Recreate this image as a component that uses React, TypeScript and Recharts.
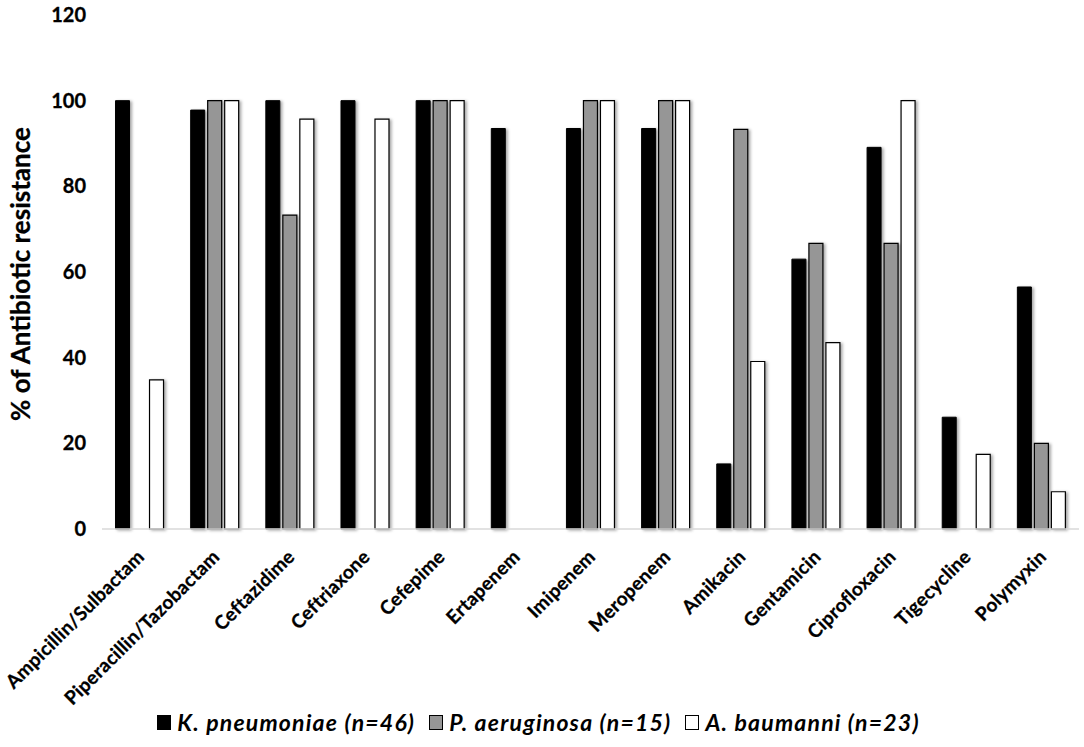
import React from 'react';
import { BarChart, Bar, XAxis, YAxis, Legend, Label, Rectangle } from 'recharts';

const categories = [
  'Ampicillin/Sulbactam', 'Piperacillin/Tazobactam', 'Ceftazidime', 'Ceftriaxone', 'Cefepime',
  'Ertapenem', 'Imipenem', 'Meropenem', 'Amikacin', 'Gentamicin', 'Ciprofloxacin', 'Tigecycline', 'Polymyxin',
];
const kPneumoniae = [100, 97.8, 100, 100, 100, 93.5, 93.5, 93.5, 15.2, 63.0, 89.1, 26.1, 56.5];
const pAeruginosa = [0, 100, 73.3, 0, 100, 0, 100, 100, 93.3, 66.7, 66.7, 0, 20];
const aBaumanni = [34.8, 100, 95.7, 95.7, 100, 0, 100, 100, 39.1, 43.5, 100, 17.4, 8.7];
const yTicks = [0, 20, 40, 60, 80, 100, 120];
const seriesNames = ['K. pneumoniae (n=46)', 'P. aeruginosa (n=15)', 'A. baumanni (n=23)'];

const data = categories.map((name, i) => ({
  name,
  k: kPneumoniae[i],
  p: pAeruginosa[i],
  a: aBaumanni[i],
}));

const FONT = 'Lato, "Open Sans", sans-serif';

const XTick = (props: any) => {
  const { x, y, payload } = props;
  const tx = x + 6;
  const ty = y + 21;
  return (
    <text
      x={tx}
      y={ty}
      textAnchor="end"
      fontFamily={FONT}
      fontWeight="bold"
      fontSize={19}
      letterSpacing={0.3}
      fill="#000"
      stroke="#000"
      strokeWidth={0.3}
      transform={`rotate(-45, ${tx}, ${ty})`}
    >
      {payload.value}
    </text>
  );
};

const YTick = (props: any) => {
  const { x, y, payload } = props;
  return (
    <text
      x={x}
      y={y}
      dy={7}
      textAnchor="end"
      fontFamily={FONT}
      fontWeight="bold"
      fontSize={20}
      fill="#000"
      stroke="#000"
      strokeWidth={0.3}
    >
      {payload.value}
    </text>
  );
};

const shadowShape = (props: any) => {
  if (!props.height) return <g />;
  return (
    <Rectangle
      {...props}
      style={{ filter: 'drop-shadow(2px 1px 1.5px rgba(0,0,0,0.35))' }}
    />
  );
};

const LegendContent = () => {
  const fills = ['#000000', '#969696', '#ffffff'];
  return (
    <div
      style={{
        display: 'flex',
        justifyContent: 'center',
        alignItems: 'center',
        height: 30,
        fontFamily: FONT,
        fontWeight: 'bold',
        fontStyle: 'italic',
        fontSize: 23,
        letterSpacing: 1.2,
        color: '#000',
        paddingLeft: 12,
      }}
    >
      {seriesNames.map((n, i) => (
        <span key={n} style={{ display: 'flex', alignItems: 'center', marginRight: 14 }}>
          <span
            style={{
              display: 'inline-block',
              width: 12,
              height: 13,
              background: fills[i],
              border: '1px solid #000',
              marginRight: 6,
            }}
          />
          {n}
        </span>
      ))}
    </div>
  );
};

export default function App() {
  return (
    <div style={{ position: 'absolute', left: 0, top: 0, width: 1084, height: 747, background: '#fff' }}>
      <BarChart
        width={1084}
        height={747}
        data={data}
        margin={{ top: 15, right: 5, left: 0, bottom: 10 }}
        barCategoryGap="18%"
        barGap={3}
      >
        <XAxis
          dataKey="name"
          interval={0}
          tickLine={false}
          axisLine={{ stroke: '#d9d9d9', strokeWidth: 1.5 }}
          tick={<XTick />}
          height={178}
        />
        <YAxis
          domain={[0, 120]}
          ticks={yTicks}
          interval={0}
          axisLine={false}
          tickLine={false}
          width={102}
          tickMargin={10}
          tick={<YTick />}
        >
          <Label
            content={() => (
              <text
                x={30}
                y={274}
                textAnchor="middle"
                fontFamily={FONT}
                fontWeight="bold"
                fontSize={26}
                fill="#000"
                stroke="#000"
                strokeWidth={0.3}
                transform="rotate(-90, 30, 274)"
              >
                % of Antibiotic resistance
              </text>
            )}
          />
        </YAxis>
        <Legend verticalAlign="bottom" content={<LegendContent />} />
        <Bar dataKey="k" name={seriesNames[0]} fill="#000000" stroke="#000" strokeWidth={1} isAnimationActive={false} shape={shadowShape} />
        <Bar dataKey="p" name={seriesNames[1]} fill="#969696" stroke="#000" strokeWidth={1.2} isAnimationActive={false} shape={shadowShape} />
        <Bar dataKey="a" name={seriesNames[2]} fill="#ffffff" stroke="#000" strokeWidth={1.2} isAnimationActive={false} shape={shadowShape} />
      </BarChart>
    </div>
  );
}
